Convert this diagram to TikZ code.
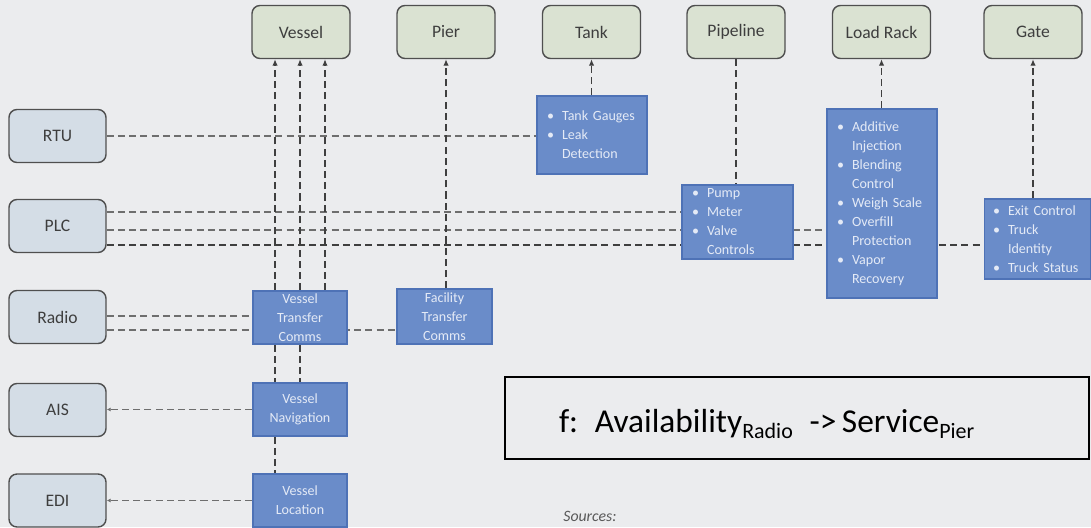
\documentclass[tikz,border=0pt]{standalone}
\usepackage{fontspec}
\setmainfont{Carlito}
\usetikzlibrary{arrows.meta, calc, positioning}
\pgfdeclarelayer{back}
\pgfdeclarelayer{wires}
\pgfsetlayers{back,wires,main}
\definecolor{bgcol}{HTML}{EBECEE}
\definecolor{assetfill}{HTML}{DAE2D2}
\definecolor{sourcefill}{HTML}{D4DDE6}
\definecolor{boxline}{HTML}{4F4F4F}
\definecolor{labeltext}{HTML}{3E3E3E}
\definecolor{funcfill}{HTML}{6A8CC9}
\definecolor{funcline}{HTML}{4E72B6}
\definecolor{functext}{HTML}{E4EAF6}
\definecolor{linkgray}{HTML}{6E6E6E}
\definecolor{linkdark}{HTML}{3F3F3F}
\newcommand{\itm}{\makebox[0.3cm][l]{\textbullet}}
\newcommand{\cnt}{\hspace*{0.3cm}}
\newcommand{\sub}[1]{\raisebox{-0.2em}{\fontsize{12.5}{12.5}\selectfont #1}}
\tikzset{
    asset/.style={draw=boxline, fill=assetfill, rounded corners=0.16cm, line width=0.8pt,
        minimum width=1.96cm, minimum height=1.06cm, text=labeltext, font=\fontsize{10}{12}\selectfont},
    source/.style={asset, fill=sourcefill, minimum width=1.94cm},
    func/.style={draw=funcline, fill=funcfill, line width=0.6pt, text=functext,
        font=\fontsize{8}{10.8}\selectfont, inner ysep=0pt},
    funclist/.style={func, align=left, inner xsep=0.2cm},
    funcmid/.style={func, align=center, inner xsep=0pt},
    link/.style={draw=linkgray, line width=0.9pt, dash pattern=on 4pt off 2.4pt},
    darklink/.style={link, draw=linkdark},
    tip/.style={-{Latex[length=1.3mm,width=1.1mm]}},
    smalltip/.style={-{Latex[length=0.8mm,width=0.8mm]}}
}
\begin{document}
\begin{tikzpicture}[x=0.02cm, y=-0.02cm]
        \useasboundingbox (0,0) rectangle (1091,527);
        \begin{pgfonlayer}{back}
            \fill[bgcol] (0,0) rectangle (1091,527);
        \end{pgfonlayer}

        % assets along the top
        \node[asset] (vessel)   at (301, 32)   {Vessel};
        \node[asset] (pier)     at (446, 32)   {Pier};
        \node[asset] (tank)     at (591.5, 32) {Tank};
        \node[asset] (pipeline) at (736, 32)   {Pipeline};
        \node[asset] (loadrack) at (881.5, 32) {Load Rack};
        \node[asset] (gate)     at (1033, 32)  {Gate};

        % systems on the left
        \node[source] (rtu)   at (57.5, 136)   {RTU};
        \node[source] (plc)   at (57.5, 226)   {PLC};
        \node[source] (radio) at (57.5, 317)   {Radio};
        \node[source] (ais)   at (57.5, 410)   {AIS};
        \node[source] (edi)   at (57.5, 500.5) {EDI};

        % functions
        \node[funclist, text width=1.8cm, minimum height=1.56cm] (tankfn) at (592, 135)
            {\itm Tank Gauges\\ \itm Leak\\ \cnt Detection};
        \node[funclist, text width=1.82cm, minimum height=1.48cm] (pumpfn) at (737.5, 222)
            {\itm Pump\\ \itm Meter\\ \itm Valve\\ \cnt Controls};
        \node[funclist, text width=1.8cm, minimum height=3.78cm] (rackfn) at (882, 203.5)
            {\itm Additive\\ \cnt Injection\\ \itm Blending\\ \cnt Control\\ \itm Weigh Scale\\
             \itm Overfill\\ \cnt Protection\\ \itm Vapor\\ \cnt Recovery};
        \node[funclist, inner xsep=0.18cm, text width=1.78cm, minimum height=1.6cm] (gatefn) at (1037.5, 239)
            {\itm Exit Control\\ \itm Truck\\ \cnt Identity\\ \itm Truck Status};
        \node[funcmid, minimum width=1.88cm, minimum height=1.06cm] (vtc) at (300, 317.5)
            {Vessel\\ Transfer\\ Comms};
        \node[funcmid, minimum width=1.9cm, minimum height=1.1cm] (ftc) at (444.5, 316.5)
            {Facility\\ Transfer\\ Comms};
        \node[funcmid, minimum width=1.88cm, minimum height=1.06cm] (vnav) at (300, 409.5)
            {Vessel\\ Navigation};
        \node[funcmid, minimum width=1.88cm, minimum height=1.06cm] (vloc) at (300, 500.5)
            {Vessel\\ Location};

        % formula and note
        \node[draw=black, line width=1.1pt, minimum width=11.68cm, minimum height=1.64cm,
              text width=9.52cm, inner xsep=1.08cm, align=left, text height=0.7cm, text depth=0.14cm,
              font=\fontsize{19}{22}\selectfont] (formula) at (797, 418)
            {f:\ \,Availability\sub{Radio}\ \,->\,Service\sub{Pier}};
        \node[anchor=west, font=\fontsize{9}{10}\selectfont\itshape, text=black!65, inner sep=0pt] (sources) at (563, 516) {Sources:};

        % connectors
        \begin{pgfonlayer}{wires}
            \coordinate (plcA) at ($(plc.east)+(0,-14)$);
            \coordinate (plcB) at ($(plc.east)+(0,4)$);
            \coordinate (plcC) at ($(plc.east)+(0,19)$);
            \coordinate (radA) at ($(radio.east)+(0,-1)$);
            \coordinate (radB) at ($(radio.east)+(0,13)$);

            \draw[link] (rtu.east) -- (rtu.east -| tankfn.west);
            \draw[link] (plcA) -- (plcA -| pumpfn.west);
            \draw[link] (plcB) -- (plcB -| rackfn.west);
            \draw[darklink] (plcC) -- (plcC -| gatefn.west);
            \draw[link] (radA) -- (radA -| vtc.west);
            \draw[link] (radB) -- (radB -| ftc.west);
            \draw[link, smalltip] (vnav.west) -- (vnav.west -| ais.east);
            \draw[link, smalltip] (vloc.west) -- (vloc.west -| edi.east);

            \draw[darklink, tip] ([xshift=-0.5cm]vtc.north) -- ([xshift=-0.5cm]vtc.north |- vessel.south);
            \draw[darklink, tip] (vtc.north) -- (vtc.north |- vessel.south);
            \draw[darklink, tip] ([xshift=0.5cm]vtc.north) -- ([xshift=0.5cm]vtc.north |- vessel.south);
            \draw[darklink] ([xshift=-0.5cm]vtc.south) -- ([xshift=-0.5cm]vnav.north);
            \draw[darklink] (vtc.south) -- (vnav.north);
            \draw[darklink] ([xshift=-0.5cm]vnav.south) -- ([xshift=-0.5cm]vloc.north);

            \draw[darklink, tip] (ftc.north -| pier.south) -- (pier.south);
            \draw[darklink, tip] (tankfn.north -| tank.south) -- (tank.south);
            \draw[darklink] (pipeline.south) -- (pipeline.south |- pumpfn.north);
            \draw[darklink, tip] (rackfn.north -| loadrack.south) -- (loadrack.south);
            \draw[darklink, tip] (gatefn.north -| gate.south) -- (gate.south);
        \end{pgfonlayer}
\end{tikzpicture}
\end{document}
